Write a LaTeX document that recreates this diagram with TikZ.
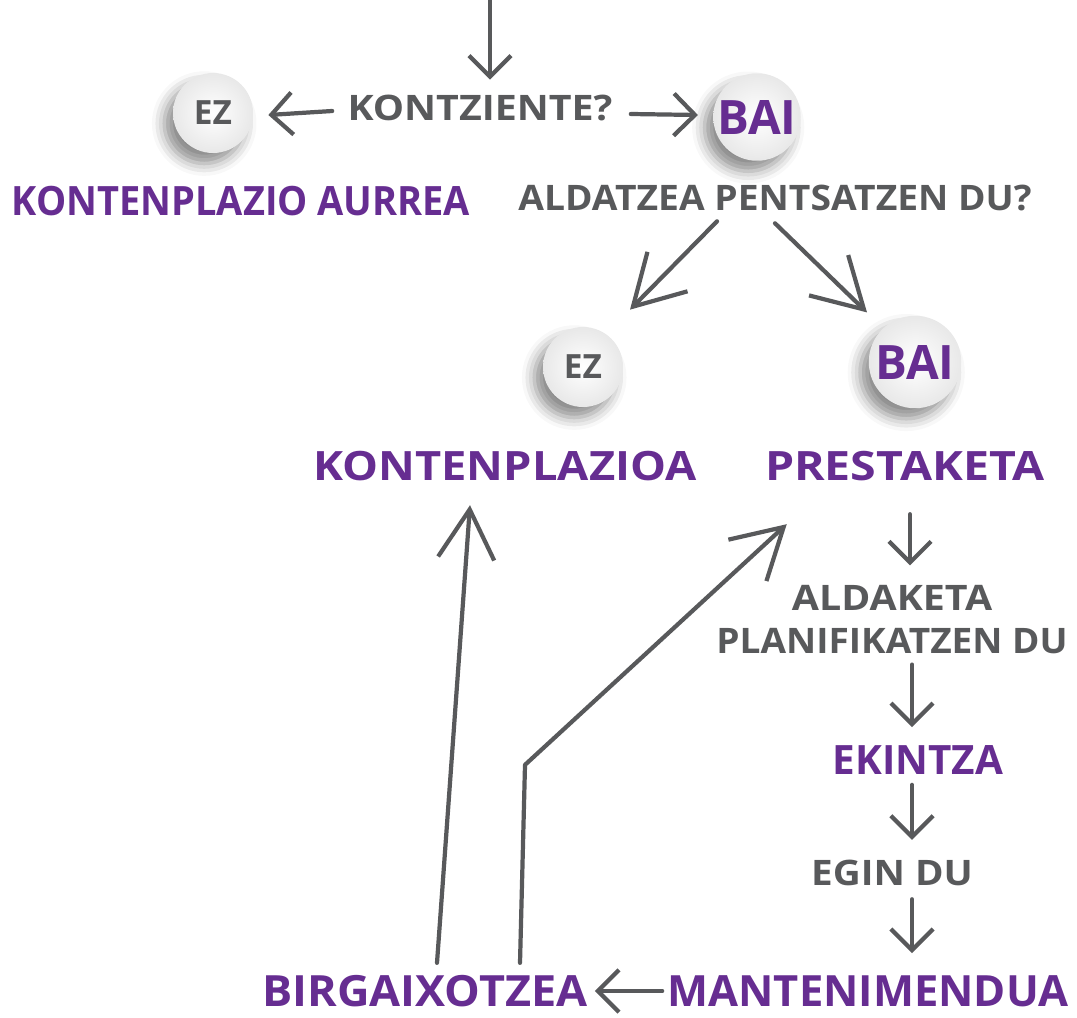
\documentclass[tikz,border=0pt]{standalone}
\usepackage{fontspec}
\usepackage{graphicx}
\setmainfont{Open Sans}
\usetikzlibrary{arrows.meta,calc,shadows.blur}
\definecolor{ink}{HTML}{58595B}
\definecolor{plum}{HTML}{662D91}
\newcommand{\wide}[2]{\scalebox{#1}[1]{#2}}
\begin{document}
\begin{tikzpicture}[x=0.02cm,y=-0.02cm,
  gtxt/.style={text=ink,font=\fontsize{20}{24.4}\selectfont\bfseries,inner sep=0},
  ptxt/.style={text=plum,font=\fontsize{23}{28}\selectfont\bfseries,inner sep=0},
  bptxt/.style={text=plum,font=\fontsize{24.5}{30}\selectfont\bfseries,inner sep=0},
  ball/.style={circle,inner sep=0,minimum size=#1,inner color=white,outer color=gray!18,
     blur shadow={shadow xshift=-5pt,shadow yshift=-6pt,shadow blur radius=7pt,shadow opacity=45}},
  eztxt/.style={text=ink,font=\fontsize{19}{22}\selectfont\bfseries},
  baitxt/.style={text=plum,font=\fontsize{27}{30}\selectfont\bfseries},
  flow/.style={draw=ink,line width=2.4pt,line cap=round,
     -{Straight Barb[length=12pt,width=24pt,line width=2.4pt]}},
  bigflow/.style={draw=ink,line width=2.4pt,line cap=round,line join=round,
     -{Straight Barb[length=28pt,width=32pt,line width=2.4pt]}}]
\useasboundingbox (0,0) rectangle (1077,1017);

\coordinate (top) at (490,0);
\node[gtxt] (q1) at (480,108) {\wide{1.12}{KONTZIENTE?}};
\node[ball=1.6cm,eztxt] (ez1) at (213,113) {EZ};
\node[ball=1.75cm,baitxt] (bai1) at (757,117) {BAI};
\node[ptxt] (pre) at (241,201) {\wide{0.94}{KONTENPLAZIO AURREA}};
\node[gtxt] (q2) at (775,198) {\wide{1.06}{ALDATZEA PENTSATZEN DU?}};
\node[ball=1.6cm,eztxt] (ez2) at (583,367) {EZ};
\node[ball=1.85cm,baitxt] (bai2) at (915,362) {BAI};
\node[ptxt] (kont) at (505,466) {\wide{1.12}{KONTENPLAZIOA}};
\node[ptxt] (prest) at (905,466) {\wide{1.15}{PRESTAKETA}};
\node[gtxt,align=center] (plan) at (892,620) {\wide{1.12}{ALDAKETA}\\\wide{1.055}{PLANIFIKATZEN DU}};
\node[ptxt] (ekin) at (918,760) {EKINTZA};
\node[gtxt] (egin) at (892,873) {\wide{1.1}{EGIN DU}};
\node[bptxt] (mant) at (868,991) {\wide{1.01}{MANTENIMENDUA}};
\node[bptxt] (birg) at (425,991) {\wide{1.045}{BIRGAIXOTZEA}};

% connectors
\draw[flow] (top) -- ($(top |- q1.north)+(0,-15)$);
\draw[flow] ($(q1.west)+(-15,3)$) -- ($(ez1.east)+(15,2)$);
\draw[flow] ($(q1.east)+(18,6)$) -- ($(bai1.west)+(-15,-2)$);
\draw[bigflow] ($(q2.south)+(-58,10)$) -- ($(ez2.north)+(47,-17)$);
\draw[bigflow] ($(q2.south)+(0,12)$) -- ($(bai2.north)+(-48,-3)$);
\draw[flow] ($(prest.south)+(5,33)$) -- ($(plan.north)+(18,-20)$);
\draw[flow] ($(plan.south)+(20,10)$) -- ($(ekin.north)+(-6,-18)$);
\draw[flow] ($(ekin.south)+(-6,10)$) -- ($(egin.north)+(20,-20)$);
\draw[flow] ($(egin.south)+(20,13)$) -- ($(mant.north)+(44,-22)$);
\draw[flow] ($(mant.west)+(-5,0)$) -- ($(birg.east)+(7,0)$);
\draw[bigflow] ($(birg.north)+(12,-12)$) -- ($(kont.south)+(-35,24)$);
\draw[bigflow] ($(birg.north)+(95,-12)$) -- ++(5,-198) -- ($(prest.south west)+(22,43)$);
\end{tikzpicture}
\end{document}
